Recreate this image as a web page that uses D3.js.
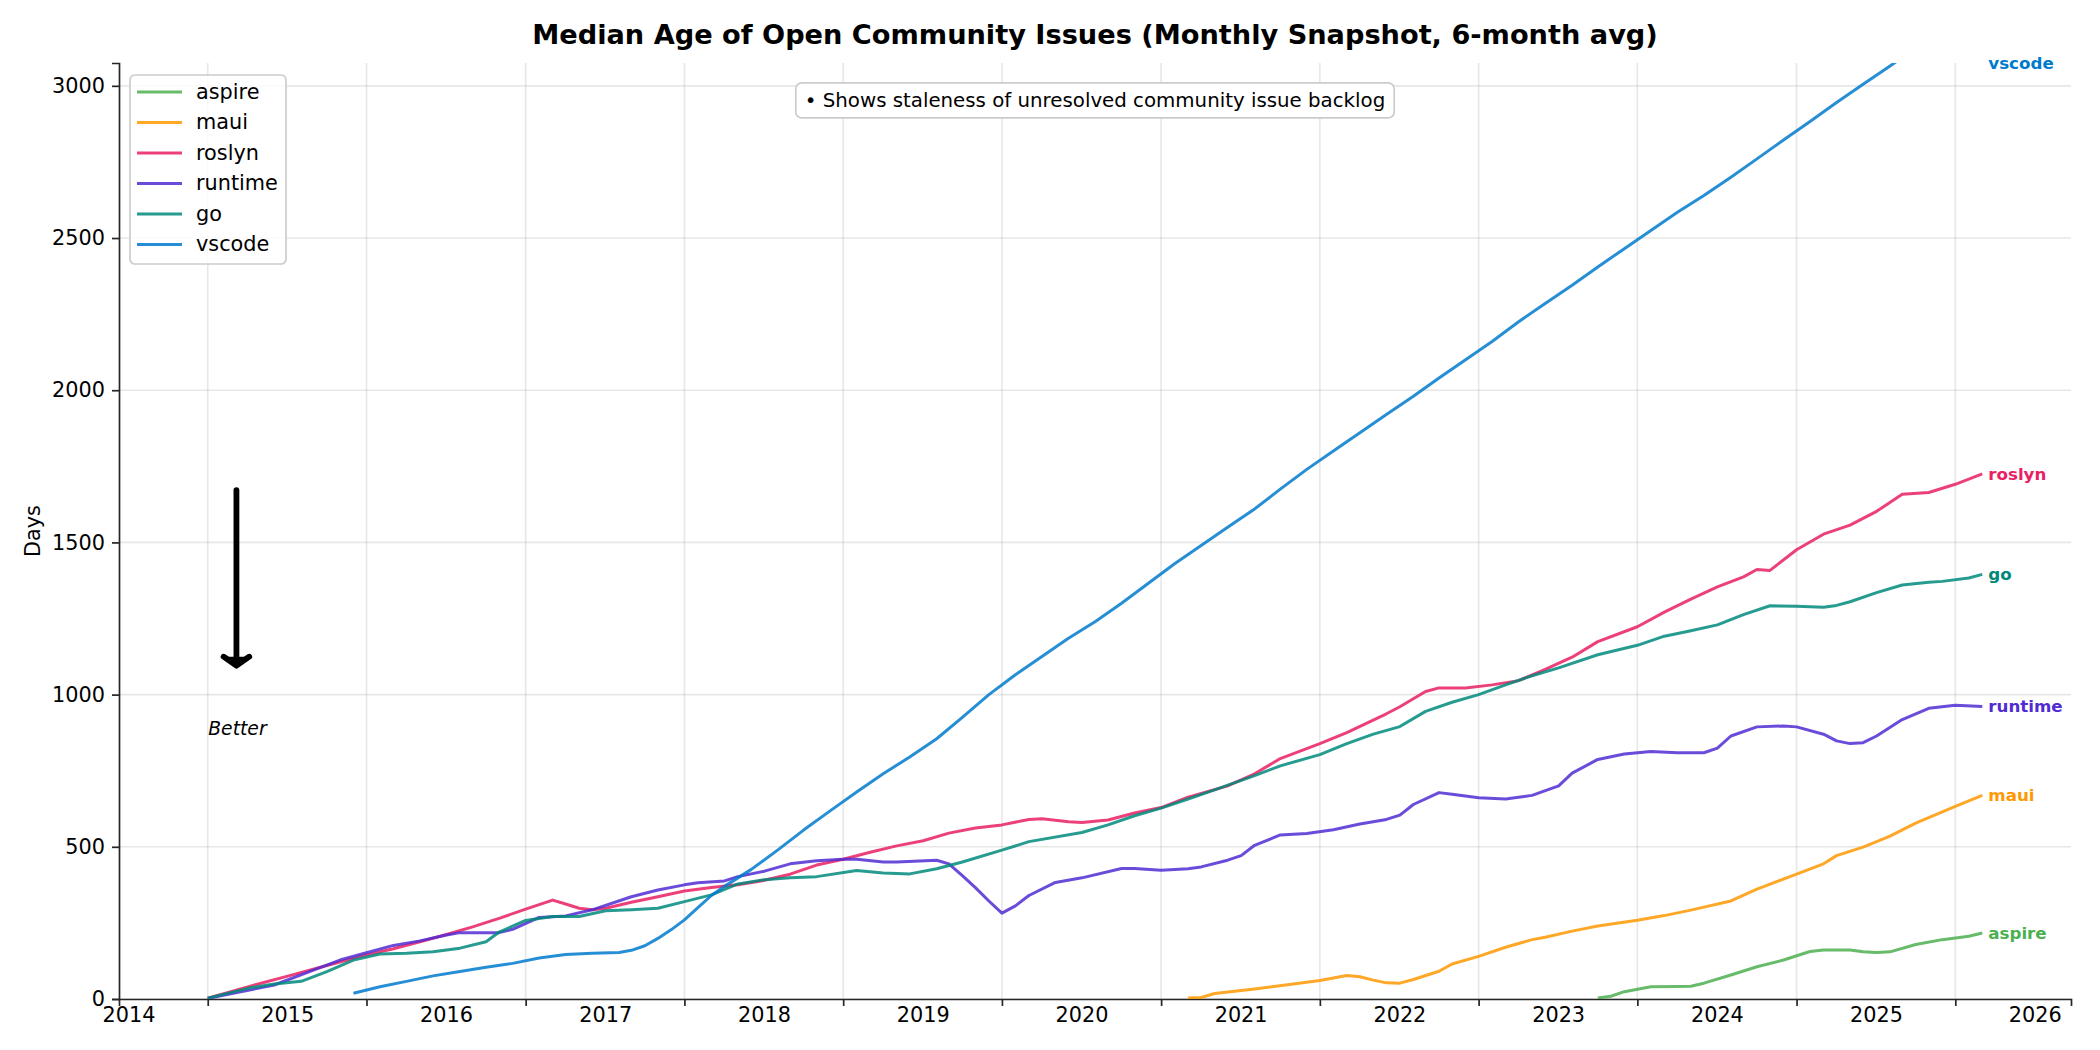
<!DOCTYPE html>
<html>
<head>
<meta charset="utf-8">
<script src="https://cdn.jsdelivr.net/npm/d3@7"></script>
<style>
  body { margin: 0; background: #fff; }
  text { font-family: "DejaVu Sans", sans-serif; fill: #000; }
</style>
</head>
<body>
<div id="chart"></div>
<script>
// ---- data (monthly snapshot, 6-month avg, in days) ----
const repos = ["aspire", "maui", "roslyn", "runtime", "go", "vscode"];
const repoColors = ["#4CAF50", "#FF9800", "#E91E63", "#512BD4", "#00897B", "#007ACC"];

const aspireMonths = ["2023-04","2023-05","2023-06","2023-08","2023-10","2023-11","2023-12","2024-02","2024-04","2024-06",
  "2024-08","2024-09","2024-11","2024-12","2025-01","2025-02","2025-04","2025-06","2025-08","2025-09"];
const aspireDays = [3,9,24,40,41,42,52,79,106,128,156,161,161,155,153,155,179,195,206,217];

const mauiMonths = ["2020-09","2020-10","2020-11","2021-02","2021-05","2021-07","2021-09","2021-10","2021-11","2021-12",
  "2022-01","2022-02","2022-04","2022-05","2022-07","2022-09","2022-11","2022-12","2023-02","2023-04",
  "2023-07","2023-09","2023-11","2024-02","2024-04","2024-07","2024-09","2024-10","2024-12","2025-02",
  "2025-04","2025-07","2025-09"];
const mauiDays = [3,5,18,33,49,61,77,73,62,53,52,64,91,115,140,170,195,203,223,240,259,274,292,322,361,410,444,471,499,535,578,633,669];

const roslynMonths = ["2014-07","2014-10","2015-01","2015-04","2015-07","2015-09","2015-11","2016-01","2016-03","2016-05",
  "2016-07","2016-09","2016-10","2016-11","2016-12","2017-01","2017-03","2017-05","2017-07","2017-09",
  "2017-11","2018-01","2018-03","2018-05","2018-07","2018-09","2018-11","2019-01","2019-03","2019-05",
  "2019-07","2019-09","2019-10","2019-12","2020-01","2020-03","2020-05","2020-07","2020-09","2020-12",
  "2021-02","2021-04","2021-07","2021-09","2021-12","2022-01","2022-03","2022-04","2022-06","2022-08",
  "2022-10","2022-12","2023-02","2023-04","2023-07","2023-09","2023-11","2024-01","2024-03","2024-04",
  "2024-05","2024-07","2024-09","2024-11","2025-01","2025-03","2025-05","2025-07","2025-09"];
const roslynDays = [3,40,75,110,145,165,188,212,237,265,
  295,325,312,298,293,298,318,336,355,366,
  375,390,410,440,459,482,503,520,545,562,
  572,590,592,582,580,588,611,629,663,700,
  740,790,839,875,937,960,1010,1022,1022,1032,
  1046,1083,1123,1174,1223,1271,1314,1354,1387,1411,
  1408,1476,1527,1557,1602,1658,1664,1691,1725];

const runtimeMonths = ["2014-07","2014-12","2015-03","2015-05","2015-07","2015-09","2015-11","2016-01","2016-02","2016-05",
  "2016-06","2016-08","2016-10","2016-12","2017-03","2017-05","2017-07","2017-08","2017-10","2017-11",
  "2018-01","2018-03","2018-05","2018-07","2018-08","2018-10","2018-11","2019-02","2019-03","2019-04",
  "2019-05","2019-06","2019-07","2019-08","2019-09","2019-11","2020-01","2020-04","2020-05","2020-07",
  "2020-09","2020-10","2020-12","2021-01","2021-02","2021-04","2021-06","2021-08","2021-10","2021-12",
  "2022-01","2022-02","2022-04","2022-05","2022-07","2022-09","2022-11","2023-01","2023-02","2023-04",
  "2023-06","2023-08","2023-10","2023-12","2024-01","2024-02","2024-04","2024-06","2024-07","2024-09",
  "2024-10","2024-11","2024-12","2025-01","2025-03","2025-05","2025-07","2025-09"];
const runtimeDays = [2,46,95,128,152,176,191,210,218,218,
  229,268,273,293,336,358,375,382,388,402,
  420,444,454,459,459,450,450,456,444,405,
  366,322,282,306,340,383,398,429,429,423,
  428,434,456,471,505,539,544,556,575,590,
  604,639,678,673,661,657,669,700,742,787,
  805,813,809,809,824,864,894,897,894,870,
  848,839,842,864,918,955,965,961];

const goMonths = ["2014-07","2014-10","2014-12","2015-02","2015-04","2015-06","2015-08","2015-10","2015-12","2016-02",
  "2016-04","2016-05","2016-07","2016-09","2016-11","2017-01","2017-03","2017-05","2017-07","2017-09",
  "2017-11","2018-01","2018-03","2018-05","2018-08","2018-10","2018-12","2019-02","2019-04","2019-07",
  "2019-09","2020-01","2020-03","2020-05","2020-07","2020-09","2020-11","2021-02","2021-04","2021-07",
  "2021-09","2021-11","2022-01","2022-03","2022-05","2022-07","2022-09","2022-11","2023-01","2023-04",
  "2023-07","2023-09","2023-11","2024-01","2024-03","2024-05","2024-07","2024-09","2024-10","2024-11",
  "2025-01","2025-03","2025-05","2025-06","2025-08","2025-09"];
const goDays = [3,35,49,58,90,128,148,150,155,167,
  188,220,258,271,271,290,293,298,320,342,
  378,392,398,402,422,414,411,428,450,489,
  517,547,572,602,627,657,687,734,766,803,
  839,870,895,945,975,1000,1032,1062,1088,1131,
  1162,1192,1210,1229,1263,1292,1290,1287,1293,1305,
  1335,1360,1369,1372,1383,1395];

const vscodeMonths = ["2015-06","2015-08","2015-10","2015-12","2016-02","2016-04","2016-06","2016-08","2016-10","2016-12",
  "2017-02","2017-03","2017-04","2017-05","2017-06","2017-07","2017-08","2017-09","2017-10","2017-12",
  "2018-02","2018-04","2018-06","2018-08","2018-10","2018-12","2019-02","2019-04","2019-06","2019-08",
  "2019-10","2019-12","2020-02","2020-04","2020-06","2020-08","2020-10","2020-12","2021-02","2021-04",
  "2021-06","2021-08","2021-10","2021-12","2022-02","2022-04","2022-06","2022-08","2022-10","2022-12",
  "2023-02","2023-04","2023-06","2023-08","2023-10","2023-12","2024-02","2024-04","2024-06","2024-08",
  "2024-10","2024-12","2025-02","2025-04","2025-06","2025-09"];
const vscodeDays = [19,40,58,76,90,104,117,135,146,150,
  153,160,175,199,228,260,300,340,370,425,
  490,555,618,680,740,795,855,925,1000,1065,
  1125,1185,1240,1300,1365,1430,1490,1550,1610,1675,
  1740,1800,1860,1920,1980,2040,2100,2160,2225,2285,
  2345,2405,2465,2525,2585,2640,2700,2760,2822,2883,
  2945,3005,3065,3125,3185,3270];

const yTicks = [0, 500, 1000, 1500, 2000, 2500, 3000];
const yearLabels = [2014, 2015, 2016, 2017, 2018, 2019, 2020, 2021, 2022, 2023, 2024, 2025, 2026];
const titleText = "Median Age of Open Community Issues (Monthly Snapshot, 6-month avg)";
const noteText = "\u2022 Shows staleness of unresolved community issue backlog";

// ---- layout ----
const dimension = {width: 2100, height: 1050};
const padding = {top: 63, right: 29, bottom: 51, left: 119};
dimension.innerWidth = dimension.width - padding.left - padding.right;
dimension.innerHeight = dimension.height - padding.top - padding.bottom;
const yMax = 3075;
const lineWidth = 3;

const parseMonth = d3.timeParse("%Y-%m");
const monthLists = [aspireMonths, mauiMonths, roslynMonths, runtimeMonths, goMonths, vscodeMonths];
const dayLists = [aspireDays, mauiDays, roslynDays, runtimeDays, goDays, vscodeDays];

const series = repos.map((name, i) => ({
    name: name,
    color: repoColors[i],
    values: monthLists[i].map((m, j) => ({date: parseMonth(m), days: dayLists[i][j]}))
}));

function createScales() {
    const allDates = series.flatMap(s => s.values.map(d => d.date));
    const [d0, d1] = d3.extent(allDates);
    const pad = (d1 - d0) * 0.05; // matplotlib-like margins
    return {
        x: d3.scaleTime().domain([new Date(+d0 - pad), new Date(+d1 + pad)]).range([0, dimension.innerWidth]),
        y: d3.scaleLinear().domain([0, yMax]).range([dimension.innerHeight, 0])
    };
}

function render() {
    const scale = createScales();
    const svg = d3.select("#chart").append("svg")
        .attr("width", dimension.width)
        .attr("height", dimension.height);

    const g = svg.append("g")
        .attr("transform", `translate(${padding.left},${padding.top})`);

    svg.append("defs").append("clipPath").attr("id", "plot-clip")
        .append("rect")
        .attr("width", dimension.innerWidth)
        .attr("height", dimension.innerHeight);

    renderGrid(g, scale);
    renderAxes(g, scale);
    renderLines(g, scale);
    renderEndLabels(g, scale);
    renderLegend(g);
    renderNote(g);
    renderArrow(g, scale);

    svg.append("text")
        .attr("x", padding.left + dimension.innerWidth / 2)
        .attr("y", 43.5)
        .attr("text-anchor", "middle")
        .style("font-size", "27.2px")
        .style("font-weight", "bold")
        .text(titleText);

    svg.append("text")
        .attr("transform", `translate(40,${padding.top + dimension.innerHeight / 2}) rotate(-90)`)
        .attr("text-anchor", "middle")
        .style("font-size", "20.8px")
        .text("Days");
}

function renderGrid(g, scale) {
    const midYears = yearLabels.slice(0, -1).map(y => new Date(y, 6, 1));
    g.append("g").attr("class", "grid-x")
        .selectAll("line")
        .data(midYears)
        .enter()
        .append("line")
        .attr("x1", d => scale.x(d))
        .attr("x2", d => scale.x(d))
        .attr("y1", 0)
        .attr("y2", dimension.innerHeight)
        .attr("stroke", "#b0b0b0")
        .attr("stroke-opacity", 0.3)
        .attr("stroke-width", 1.6);

    g.append("g").attr("class", "grid-y")
        .selectAll("line")
        .data(yTicks)
        .enter()
        .append("line")
        .attr("x1", 0)
        .attr("x2", dimension.innerWidth)
        .attr("y1", d => scale.y(d))
        .attr("y2", d => scale.y(d))
        .attr("stroke", "#b0b0b0")
        .attr("stroke-opacity", 0.3)
        .attr("stroke-width", 1.6);
}

function renderAxes(g, scale) {
    const axisColor = "#262626";

    // y axis
    const yAxis = g.append("g")
        .call(d3.axisLeft(scale.y).tickValues(yTicks).tickSize(7).tickPadding(7).tickFormat(d3.format("d")));
    yAxis.select(".domain").attr("stroke", axisColor).attr("stroke-width", 1.7);
    yAxis.selectAll(".tick line").attr("stroke", axisColor).attr("stroke-width", 1.7);
    yAxis.selectAll(".tick text")
        .style("font-size", "20.8px")
        .style("font-family", "DejaVu Sans")
        .attr("fill", "#000");

    // x axis: tick marks mid-year, labels at year start
    const midYears = yearLabels.slice(0, -1).map(y => new Date(y, 6, 1));
    const xAxis = g.append("g")
        .attr("transform", `translate(0,${dimension.innerHeight})`)
        .call(d3.axisBottom(scale.x).tickValues(midYears).tickSize(7).tickFormat(""));
    xAxis.select(".domain").attr("stroke", axisColor).attr("stroke-width", 1.7);
    xAxis.selectAll(".tick line").attr("stroke", axisColor).attr("stroke-width", 1.7);

    xAxis.selectAll(".year-label")
        .data(yearLabels)
        .enter()
        .append("text")
        .attr("class", "year-label")
        .attr("x", d => scale.x(new Date(d, 0, 1)))
        .attr("y", 23)
        .attr("text-anchor", "middle")
        .style("font-size", "20.8px")
        .text(d => d);
}

function renderLines(g, scale) {
    const line = d3.line()
        .x(d => scale.x(d.date))
        .y(d => scale.y(d.days));

    g.append("g")
        .attr("clip-path", "url(#plot-clip)")
        .selectAll(".series")
        .data(series)
        .enter()
        .append("path")
        .attr("class", "series")
        .attr("fill", "none")
        .attr("stroke", d => d.color)
        .attr("stroke-opacity", 0.85)
        .attr("stroke-width", lineWidth)
        .attr("stroke-linejoin", "round")
        .attr("d", d => line(d.values));
}

function renderEndLabels(g, scale) {
    g.selectAll(".end-label")
        .data(series)
        .enter()
        .append("text")
        .attr("class", "end-label")
        .attr("x", d => scale.x(d.values[d.values.length - 1].date) + 6)
        .attr("y", d => scale.y(Math.min(d.values[d.values.length - 1].days, yMax)))
        .attr("dy", "0.35em")
        .style("font-size", "16.7px")
        .style("font-weight", "bold")
        .style("fill", d => d.color)
        .text(d => d.name);
}

function renderLegend(g) {
    const lx = 11, ly = 12, rowH = 30.5;
    const legend = g.append("g").attr("class", "legend");
    legend.append("rect")
        .attr("x", lx)
        .attr("y", ly)
        .attr("width", 156)
        .attr("height", 189)
        .attr("rx", 5)
        .attr("fill", "#fff")
        .attr("fill-opacity", 0.8)
        .attr("stroke", "#cccccc")
        .attr("stroke-width", 1.7);

    const rows = legend.selectAll(".legend-row")
        .data(series)
        .enter()
        .append("g")
        .attr("class", "legend-row")
        .attr("transform", (d, i) => `translate(${lx + 7},${ly + 17 + i * rowH})`);
    rows.append("line")
        .attr("x1", 0).attr("x2", 45)
        .attr("stroke", d => d.color)
        .attr("stroke-opacity", 0.85)
        .attr("stroke-width", lineWidth);
    rows.append("text")
        .attr("x", 59)
        .attr("dy", "0.32em")
        .style("font-size", "20.8px")
        .text(d => d.name);
}

function renderNote(g) {
    const note = g.append("g")
        .attr("transform", `translate(${dimension.innerWidth / 2},${dimension.innerHeight * 0.04})`);
    const rect = note.append("rect");
    const txt = note.append("text")
        .attr("text-anchor", "middle")
        .attr("dy", "0.35em")
        .style("font-size", "19.8px")
        .text(noteText);
    const bb = txt.node().getBBox();
    rect.attr("x", bb.x - 9)
        .attr("y", -17.5)
        .attr("width", bb.width + 18)
        .attr("height", 35)
        .attr("rx", 6)
        .attr("fill", "#fff")
        .attr("stroke", "#cccccc")
        .attr("stroke-width", 1.7);
}

function renderArrow(g, scale) {
    const ax = scale.x(new Date(2014, 8, 5));
    const yTop = scale.y(1672), yTip = scale.y(1095);
    const arrow = g.append("g").attr("class", "better-arrow");
    arrow.append("line")
        .attr("x1", ax).attr("x2", ax)
        .attr("y1", yTop).attr("y2", yTip - 2)
        .attr("stroke", "#000")
        .attr("stroke-width", 5.8)
        .attr("stroke-linecap", "round");
    arrow.append("path")
        .attr("d", `M${ax - 12.8},${yTip - 9} L${ax},${yTip} L${ax + 12.8},${yTip - 9}`)
        .attr("fill", "#000")
        .attr("stroke", "#000")
        .attr("stroke-width", 5.8)
        .attr("stroke-linecap", "round")
        .attr("stroke-linejoin", "round");

    g.append("text")
        .attr("x", ax + 1)
        .attr("y", scale.y(867))
        .attr("text-anchor", "middle")
        .style("font-size", "18.75px")
        .style("font-style", "italic")
        .text("Better");
}

render();
</script>
</body>
</html>
